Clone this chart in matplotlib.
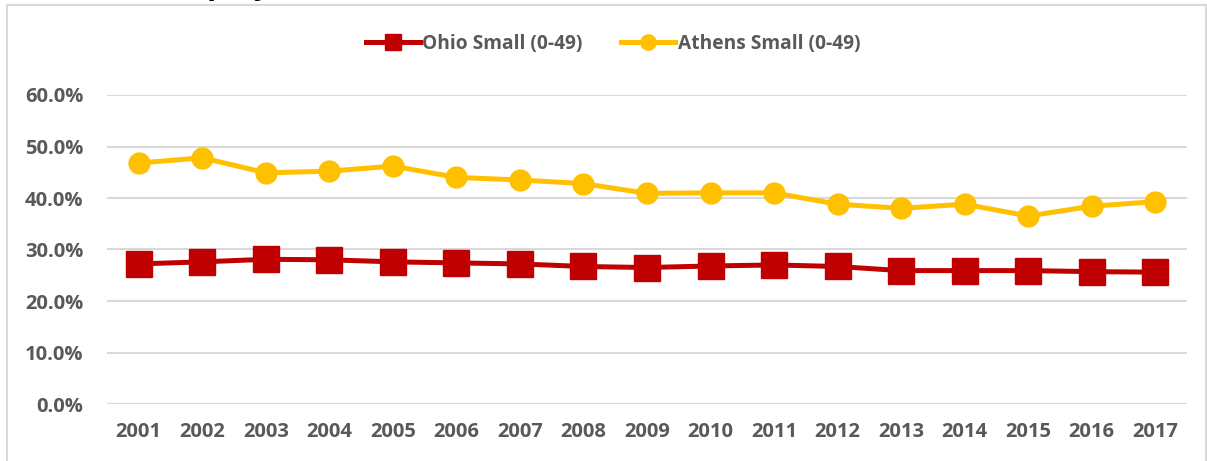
import numpy as np
import matplotlib.pyplot as plt
from matplotlib.lines import Line2D
from matplotlib.ticker import PercentFormatter

# =====================================
# Data
# =====================================

years = [str(y) for y in range(2001, 2018)]

ohio_small = [27.2, 27.6, 28.1, 28.0, 27.6, 27.4, 27.2, 26.7, 26.5,
              26.8, 27.0, 26.7, 25.9, 25.9, 25.9, 25.7, 25.6]

athens_small = [46.8, 47.8, 44.9, 45.2, 46.2, 44.0, 43.5, 42.8, 40.9,
                41.0, 41.0, 38.8, 38.0, 38.8, 36.5, 38.4, 39.3]

ohio_label = "Ohio Small (0-49)"
athens_label = "Athens Small (0-49)"

# =====================================
# Style
# =====================================

plt.rcParams["font.family"] = ["Open Sans", "DejaVu Sans"]
plt.rcParams["font.weight"] = "bold"

red = "#c00000"
gold = "#ffc000"
text_gray = "#595959"
grid_gray = "#d9d9d9"

# =====================================
# Plot
# =====================================

fig = plt.figure(figsize=(12.07, 4.61), dpi=100)
ax = fig.add_axes([107 / 1207, 57 / 461, 1080 / 1207, 309 / 461])

x = np.arange(len(years))

ax.plot(x, np.array(ohio_small) / 100, color=red, lw=3.6,
        marker="s", ms=18.5, label=ohio_label, zorder=3)
ax.plot(x, np.array(athens_small) / 100, color=gold, lw=3.6,
        marker="o", ms=15, label=athens_label, zorder=3)

ax.set_xlim(-0.5, len(years) - 0.5)
ax.set_ylim(0, 0.6)
ax.set_yticks(np.arange(0, 0.61, 0.1))
ax.yaxis.set_major_formatter(PercentFormatter(1.0, decimals=1))
ax.set_xticks(x)
ax.set_xticklabels(years)

ax.grid(axis="y", color=grid_gray, lw=1.5, zorder=0)
ax.set_axisbelow(True)
for s in ax.spines.values():
    s.set_visible(False)
ax.tick_params(length=0, labelsize=14.5, colors=text_gray)
ax.tick_params(axis="x", pad=13)
ax.tick_params(axis="y", pad=17)
for lbl in ax.get_xticklabels() + ax.get_yticklabels():
    lbl.set_fontweight("bold")

# legend
handles = [
    Line2D([], [], color=red, lw=3.6, marker="s", ms=11),
    Line2D([], [], color=gold, lw=3.6, marker="o", ms=11),
]
fig.legend(handles, [ohio_label, athens_label], loc="center",
           bbox_to_anchor=(613 / 1207, 1 - 44 / 461), ncol=2, frameon=False,
           handlelength=2.8, handletextpad=0.15,
           columnspacing=2.0, labelcolor=text_gray,
           prop={"weight": "bold", "size": 13.8})

# chart frame (bottom edge cut off in the original)
for xs, ys in [([7, 7], [461, 5]), ([7, 1206], [5, 5]), ([1206, 1206], [5, 461])]:
    fig.add_artist(Line2D(np.array(xs) / 1207, 1 - np.array(ys) / 461,
                          color=grid_gray, lw=1.5))

# title cut off at the top, only descenders show
fig.text(160 / 1207, 1 + 6 / 461, "Employment", fontsize=22,
         fontweight="bold", color="black", va="baseline")

plt.savefig("out.png", dpi=100)
